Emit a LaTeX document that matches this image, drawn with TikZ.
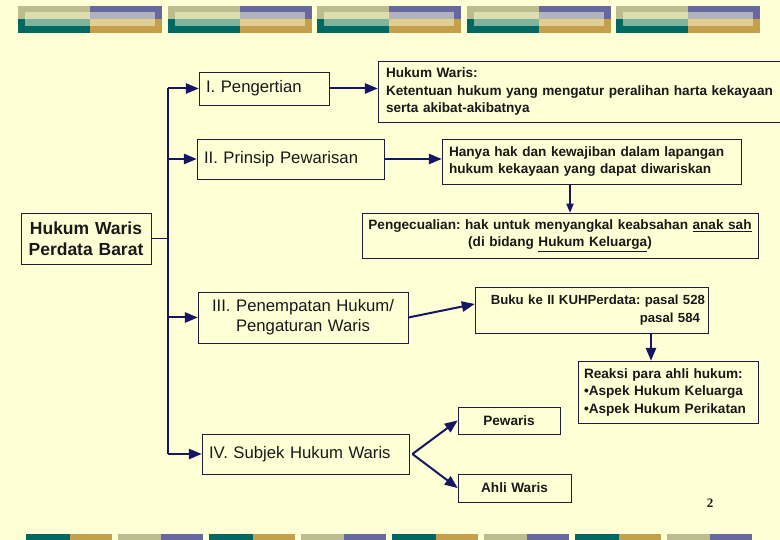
\documentclass[tikz,border=0pt]{standalone}
\usepackage{fontspec}
\setmainfont{Liberation Sans}
\newfontfamily\pagefont{Liberation Serif}
\usepackage{xcolor}
\usetikzlibrary{arrows}
\frenchspacing

\definecolor{slidebg}{RGB}{255,255,214}
\definecolor{khaki}{RGB}{188,188,143}
\definecolor{slate}{RGB}{104,104,160}
\definecolor{deepteal}{RGB}{0,104,98}
\definecolor{ochre}{RGB}{196,160,76}
\definecolor{linkcol}{RGB}{22,22,100}
\definecolor{edgecol}{RGB}{30,30,60}
\definecolor{inkcol}{RGB}{25,25,25}

\begin{document}
\begin{tikzpicture}[x=1pt,y=-1pt,
    box/.style={draw=edgecol,line width=0.8pt,inner xsep=7pt,inner ysep=0pt,text=inkcol},
    big/.style={font=\fontsize{16.7}{20}\selectfont},
    small/.style={font=\bfseries\fontsize{13.6}{17.5}\selectfont},
    link/.style={draw=linkcol,line width=2pt},
    thinlink/.style={draw=linkcol,line width=1.1pt}]
\useasboundingbox (0,0) rectangle (780,540);
\clip (0,0) rectangle (780,540);
\fill[slidebg] (0,0) rectangle (780,540);

% strip at the top
\foreach \i in {0,...,4}{
  \begin{scope}[xshift=\i*149.5]
    \fill[khaki] (18,6) rectangle (90,19.5);
    \fill[slate] (90,6) rectangle (162,19.5);
    \fill[deepteal] (18,19.5) rectangle (90,33);
    \fill[ochre] (90,19.5) rectangle (162,33);
    \fill[slidebg,opacity=0.5] (25,12) rectangle (155,26);
  \end{scope}
}

% strip at the bottom
\foreach \i in {0,2,4,6}{
  \fill[deepteal,xshift=\i*91.5] (26,534) rectangle (69.5,541);
  \fill[ochre,xshift=\i*91.5] (69.5,534) rectangle (111.5,541);
}
\foreach \i in {1,3,5,7}{
  \fill[khaki,xshift=\i*91.5] (26,534) rectangle (69.5,541);
  \fill[slate,xshift=\i*91.5] (69.5,534) rectangle (111.5,541);
}

\begin{scope}[>=triangle 45]
    \node[box,big,font=\bfseries\fontsize{17.5}{20.5}\selectfont,text width=116pt,minimum height=51pt,align=center] (hukum) at (86,238.5) {Hukum Waris\\Perdata Barat};

    \node[box,big,text width=116pt,minimum height=33pt,align=left] (pengertian) at (264,88.5) {I. Pengertian};
    \node[box,big,text width=173pt,minimum height=40pt,align=left] (prinsip) at (290.5,159) {II. Prinsip Pewarisan};
    \node[box,big,text width=196pt,minimum height=51pt,align=center] (penempatan) at (303,317.5) {III. Penempatan Hukum/\\Pengaturan Waris};
    \node[box,big,text width=193pt,minimum height=40pt,align=left] (subjek) at (305.5,454) {IV. Subjek Hukum Waris};

    \node[box,small,inner xsep=8pt,text width=406pt,minimum height=61pt,align=left] (definisi) at (589,91.5) {Hukum Waris:\\Ketentuan hukum yang mengatur peralihan harta kekayaan\\serta akibat-akibatnya};
    \node[box,small,text width=285pt,minimum height=45pt,align=left] (hanya) at (591.5,161.5) {Hanya hak dan kewajiban dalam lapangan\\hukum kekayaan yang dapat diwariskan};
    \node[box,small,inner xsep=4pt,text width=388pt,minimum height=45pt,align=center] (kecuali) at (560,235.5) {Pengecualian: hak untuk menyangkal keabsahan \underline{anak sah}\\(di bidang \underline{Hukum Keluarga})};
    \node[box,small,font=\bfseries\fontsize{13.2}{17.5}\selectfont,inner xsep=3pt,text width=227pt,minimum height=46pt,align=right] (buku) at (591.5,310) {Buku ke II KUHPerdata: pasal 528\\pasal 584\hspace*{5pt}};
    \node[box,small,inner xsep=6pt,text width=168pt,minimum height=62pt,align=left] (reaksi) at (668,392) {Reaksi para ahli hukum:\\\textbullet Aspek Hukum Keluarga\\\textbullet Aspek Hukum Perikatan};
    \node[box,small,text width=88pt,minimum height=27pt,align=center] (pewaris) at (509,420.5) {Pewaris};
    \node[box,small,text width=99pt,minimum height=28pt,align=center] (ahli) at (514.5,488) {Ahli Waris};

    \node[text=inkcol,font=\pagefont\bfseries\fontsize{13}{15}\selectfont] (halaman) at (710,503) {2};

    \coordinate (trunk) at (168,88.5);
    \draw[thinlink] (trunk) -- (trunk |- subjek);
    \draw[thinlink] (hukum) -- (hukum -| trunk);
    \draw[link,->] (trunk) -- (pengertian);
    \draw[link,->] (trunk |- prinsip) -- (prinsip);
    \draw[link,->] (trunk |- penempatan) -- (penempatan);
    \draw[link,->] (trunk |- subjek) -- (subjek);

    \draw[link,->] (pengertian) -- (pengertian -| definisi.west);
    \draw[link,->] (prinsip) -- (prinsip -| hanya.west);

    \coordinate (turun1) at ([xshift=-21.5pt]hanya.south);
    \draw[thinlink,->] (turun1) -- (turun1 |- kecuali.north);

    \draw[link,->] (penempatan.east) -- ([yshift=6pt]buku.west);

    \coordinate (turun2) at ([xshift=59.5pt]buku.south);
    \draw[link,->] (turun2) -- (turun2 |- reaksi.north);

    \coordinate (cabang) at ([xshift=3pt]subjek.east);
    \draw[link,->] (cabang) -- (pewaris.west);
    \draw[link,->] (cabang) -- (ahli.west);
\end{scope}
\end{tikzpicture}
\end{document}
